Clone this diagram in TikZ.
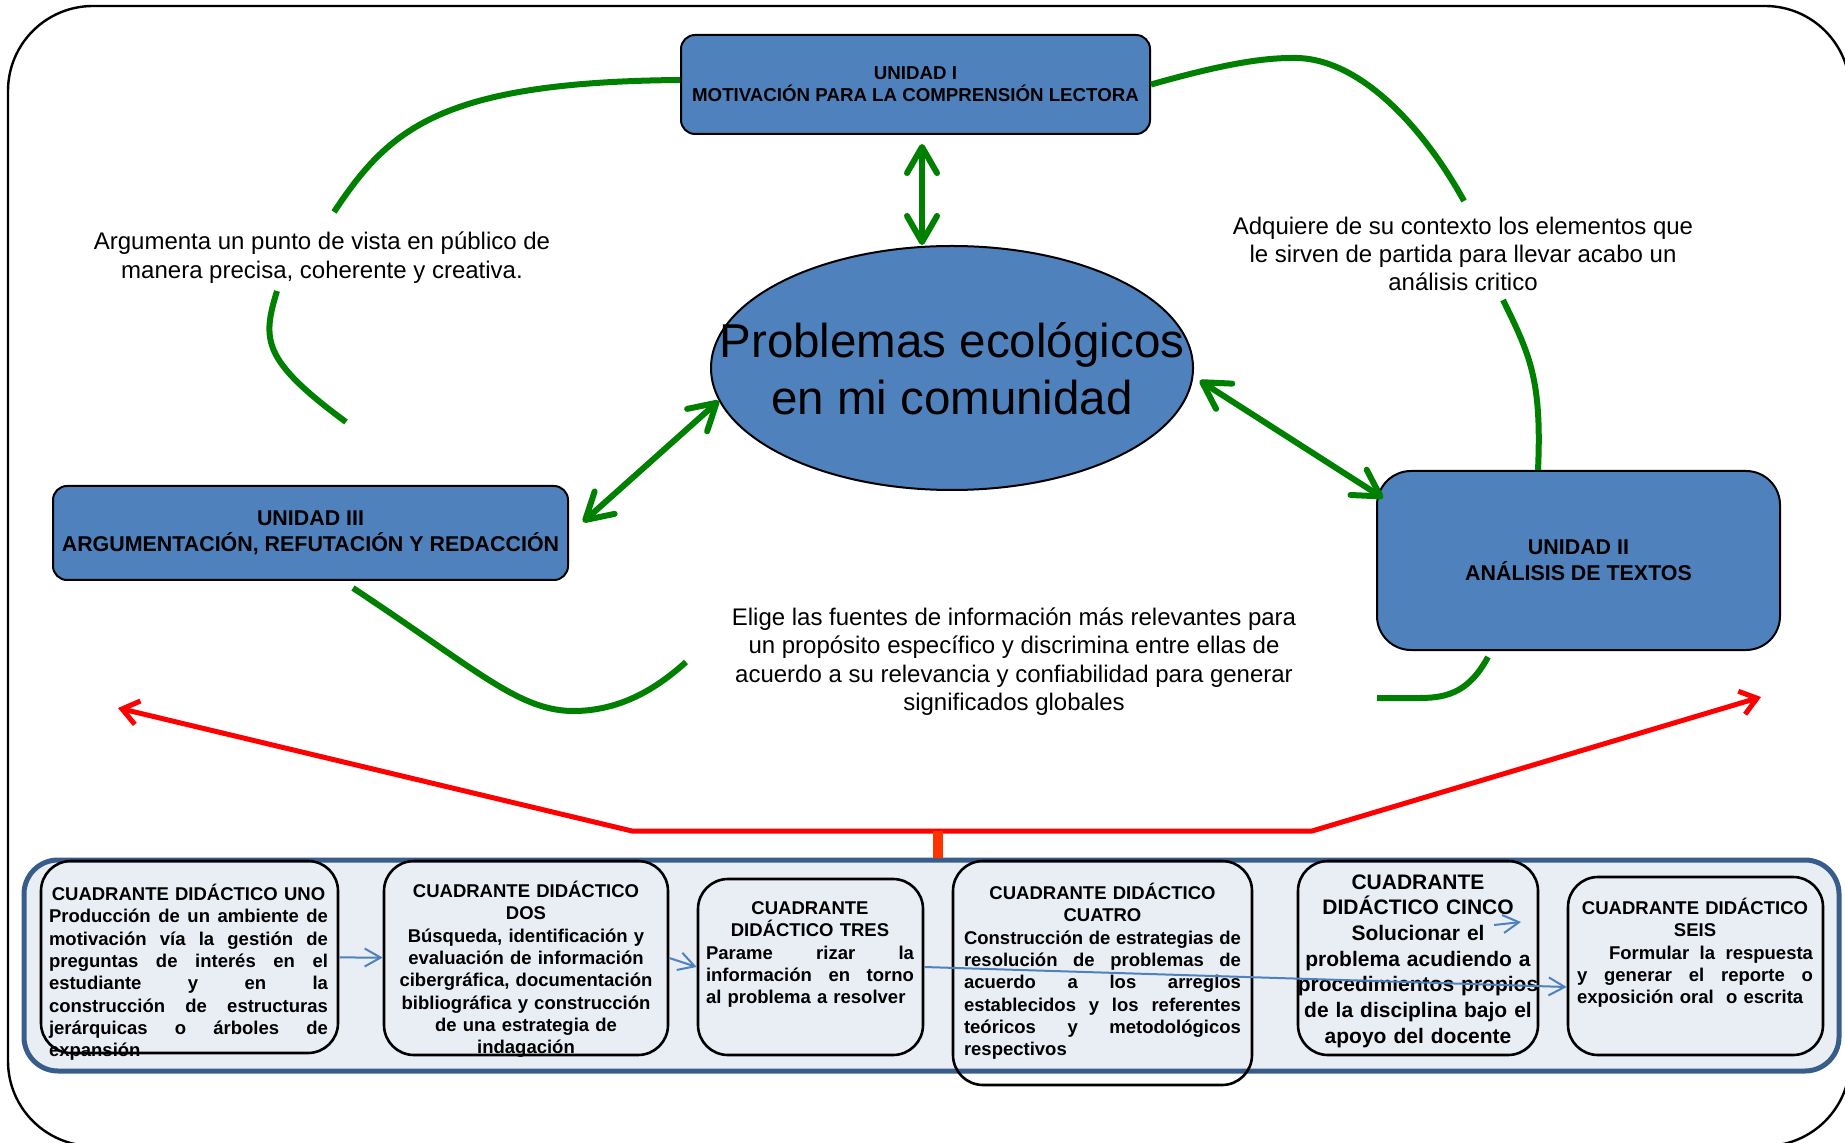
\documentclass[tikz,border=0pt]{standalone}
\usepackage{fontspec}
\setmainfont{Liberation Sans}
\usetikzlibrary{arrows.meta,shapes.geometric}

\definecolor{unidadazul}{HTML}{4F81BD}
\definecolor{marcoazul}{HTML}{385D8A}
\definecolor{fondoazul}{HTML}{E9EDF4}
\definecolor{verde}{HTML}{008000}
\definecolor{rojonaranja}{HTML}{FF3300}

\newcommand{\jline}[1]{\noindent\hbox to\hsize{\spaceskip=0.278em plus 1fil\relax #1}}
\newcommand{\lline}[1]{\noindent\hbox to\hsize{#1\hfil}}

\begin{document}
\begin{tikzpicture}[x=0.5pt,y=-0.5pt,
  unidad/.style={draw,fill=unidadazul,line width=1pt,align=center,inner sep=0pt,font=\bfseries\fontsize{10.7}{12.8}\selectfont},
  texto/.style={align=center,inner sep=0pt,font=\fontsize{12}{14.2}\selectfont},
  cuadro/.style={draw,line width=1.3pt,rounded corners=15pt,inner sep=0pt},
  cuadtexto/.style={align=center,inner sep=0pt,anchor=base,font=\bfseries\fontsize{9.25}{11.15}\selectfont},
  curva/.style={draw=verde,line width=3pt},
  flecha/.style={verde,line width=3pt,{Straight Barb[length=13pt,width=15pt,round]}-{Straight Barb[length=13pt,width=15pt,round]}},
  rojo/.style={red,line width=2.5pt,{Straight Barb[length=8pt,width=12pt]}-{Straight Barb[length=8pt,width=12pt]}},
  azul/.style={unidadazul,line width=1pt,-{Straight Barb[length=8pt,width=9pt]}}]

  \useasboundingbox (0,0) rectangle (1845,1143);
  \draw[line width=1.2pt,rounded corners=42.5pt] (8,6) rectangle (1850,1146);

  \node[unidad,rounded corners=7pt,minimum width=234.5pt,minimum height=49.5pt,font=\bfseries\fontsize{9.35}{11}\selectfont] (unidadI) at (915.5,84.5) {UNIDAD I\\MOTIVACIÓN PARA LA COMPRENSIÓN LECTORA};
  \node[unidad,rounded corners=17pt,minimum width=201.5pt,minimum height=89.5pt] (unidadII) at (1578.5,560.5) {UNIDAD II\\ANÁLISIS DE TEXTOS};
  \node[unidad,rounded corners=7pt,minimum width=257.5pt,minimum height=47pt] (unidadIII) at (310.5,533) {UNIDAD III\\ARGUMENTACIÓN, REFUTACIÓN Y REDACCIÓN};

  \node[ellipse,draw,fill=unidadazul,line width=1pt,minimum width=241pt,minimum height=122pt,inner sep=0pt] (problema) at (952,368) {};
  \node[align=center,inner sep=0pt,font=\fontsize{23.75}{28.5}\selectfont] (problematexto) at (952,369) {Problemas ecológicos\\en mi comunidad};

  \node[texto] (argumenta) at (322,257.5) {Argumenta un punto de vista en público de\\manera precisa, coherente y creativa.};
  \node[texto] (adquiere) at (1463,254) {Adquiere de su contexto los elementos que\\le sirven de partida para llevar acabo un\\análisis critico};
  \node[texto] (elige) at (1014,661.5) {Elige las fuentes de información más relevantes para\\un propósito específico y discrimina entre ellas de\\acuerdo a su relevancia y confiabilidad para generar\\significados globales};

  \coordinate (vx) at (922,0);
  \draw[flecha,shorten <=4.5pt] (unidadI.south -| vx) -- (problema.north -| vx);
  \draw[flecha] ([xshift=7pt,yshift=5.5pt]unidadIII.east) -- (problema.188);
  \draw[flecha] ([xshift=3.5pt]problema.-3) -- ([xshift=3.5pt,yshift=-14pt]unidadII.north west);

  \coordinate (c1) at (334,212);
  \coordinate (c2a) at (277,291);
  \coordinate (c2b) at (346,422);
  \coordinate (c3a) at (353,588);
  \coordinate (c3b) at (686,662);
  \coordinate (c4) at (1464,201);
  \coordinate (c5) at (1503,300);
  \coordinate (c5x) at (1538,0);
  \coordinate (c6a) at (1488,657);
  \coordinate (c6b) at (1377,698);
  \draw[curva] ([yshift=2.25pt]unidadI.west) .. controls (440,82) and (389,129) .. (c1);
  \draw[curva] (c2a) .. controls (262,340) and (262,360) .. (c2b);
  \draw[curva] (c3a) .. controls (480,672) and (520,712) .. (576,711) .. controls (620,710) and (655,690) .. (c3b);
  \draw[curva] (unidadI.east) .. controls (1220,65) and (1260,58) .. (1292,58) .. controls (1360,56) and (1425,130) .. (c4);
  \draw[curva] (c5) .. controls (1530,355) and (1542,380) .. (unidadII.north -| c5x);
  \draw[curva] (c6a) .. controls (1470,690) and (1450,698) .. (1420,698) -- (c6b);

  \coordinate (rl) at (632,831);
  \coordinate (rr) at (1312,831);
  \coordinate (rlt) at (118,708);
  \coordinate (rrt) at (1761,697);
  \coordinate (rm) at (938,831);
  \draw[rojo] (rlt) -- (rl) -- (rr) -- (rrt);

  \node[draw=marcoazul,fill=fondoazul,line width=2.5pt,rounded corners=17pt,minimum width=907.5pt,minimum height=105.5pt] (cuadrantes) at (931.5,965.5) {};
  \draw[rojonaranja,line width=5pt] (rm) -- (rm |- cuadrantes.north);

  \node[cuadro,minimum width=148.5pt,minimum height=96pt] (q1) at (189.5,957) {};
  \node[cuadro,minimum width=142pt,minimum height=97pt] (q2) at (526,958) {};
  \node[cuadro,minimum width=112.5pt,minimum height=88pt] (q3) at (810.5,967) {};
  \node[cuadro,minimum width=149.5pt,minimum height=112pt] (q4) at (1102.5,973) {};
  \node[cuadro,minimum width=120pt,minimum height=97pt] (q5) at (1418,958) {};
  \node[cuadro,minimum width=127.5pt,minimum height=89pt] (q6) at (1695.5,966) {};

  \node[cuadtexto,text width=139.5pt] (q1texto) at (188.5,900.5) {CUADRANTE DIDÁCTICO UNO\\
    \jline{Producción de un ambiente de}\\
    \jline{motivación vía la gestión de}\\
    \jline{preguntas de interés en el}\\
    \jline{estudiante y en la}\\
    \jline{construcción de estructuras}\\
    \jline{jerárquicas o árboles de}\\
    \lline{expansión}};
  \node[cuadtexto,text width=140pt] (q2texto) at (526,897.5) {CUADRANTE DIDÁCTICO\\DOS\\Búsqueda, identificación y\\evaluación de información\\cibergráfica, documentación\\bibliográfica y construcción\\de una estrategia de\\indagación};
  \node[cuadtexto,text width=104pt] (q3texto) at (810,914.5) {CUADRANTE\\DIDÁCTICO TRES\\
    \jline{Parame rizar la}\\
    \jline{información en torno}\\
    \lline{al problema a resolver}};
  \node[cuadtexto,text width=138.5pt] (q4texto) at (1102.5,899.5) {CUADRANTE DIDÁCTICO\\CUATRO\\
    \jline{Construcción de estrategias de}\\
    \jline{resolución de problemas de}\\
    \jline{acuerdo a los arreglos}\\
    \jline{establecidos y los referentes}\\
    \jline{teóricos y metodológicos}\\
    \lline{respectivos}};
  \node[cuadtexto,text width=125pt,font=\bfseries\fontsize{10.5}{12.85}\selectfont] (q5texto) at (1418,889) {CUADRANTE\\DIDÁCTICO CINCO\\Solucionar el\\problema acudiendo a\\procedimientos propios\\de la disciplina bajo el\\apoyo del docente};
  \node[cuadtexto,text width=118pt] (q6texto) at (1695,914.5) {CUADRANTE DIDÁCTICO\\SEIS\\
    \jline{\hspace*{16pt}Formular la respuesta}\\
    \jline{y generar el reporte o}\\
    \lline{exposición oral\ \ o escrita}};

  \coordinate (q5a) at (1494,925);
  \coordinate (q5b) at (1521,922);
  \draw[azul] (q1) -- (q2);
  \draw[azul] (q2.east) -- (q3.west);
  \draw[azul] (q3.east) -- ([yshift=-10.5pt]q6.west);
  \draw[azul] (q5a) -- (q5b);

\end{tikzpicture}
\end{document}
